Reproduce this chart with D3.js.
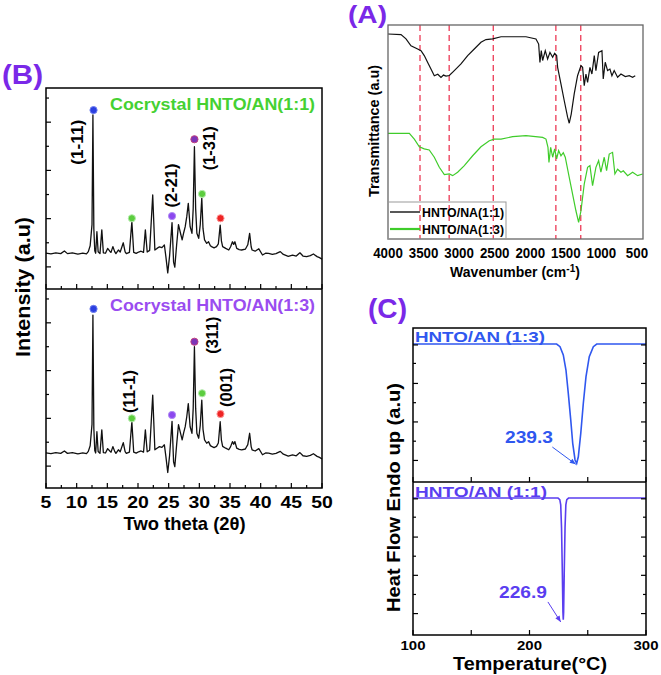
<!DOCTYPE html>
<html><head><meta charset="utf-8">
<script src="https://cdn.jsdelivr.net/npm/d3@7"></script>
<style>
body{margin:0;background:#fff}
text{font-family:"Liberation Sans",Arial,sans-serif;font-weight:bold}
</style>
</head><body>
<svg id="c" width="661" height="675"></svg>
<script>
// ---------------- DATA ----------------
// (B) XRD, two theta vs intensity (a.u., 0-100 per sub-plot)
const xrd11 = [[5.0,17.9],[5.8,17.5],[6.6,18.0],[7.4,17.6],[8.0,18.9],[8.5,17.6],[9.3,18.0],[10.2,17.4],[11.0,17.8],[11.6,17.5],[11.9,18.6],[12.2,21.5],[12.5,32],[12.65,86.6],[12.8,30],[12.95,19],[13.1,17.8],[13.3,28.5],[13.5,18.5],[13.8,17.6],[14.1,29.4],[14.35,18],[14.7,17.8],[15.05,20.2],[15.4,18.8],[15.6,18.2],[15.9,21.1],[16.2,18.6],[16.4,17.6],[16.8,19.4],[17.1,18.4],[17.6,23.0],[17.9,18.5],[18.1,17.6],[18.6,18.2],[19.0,33.5],[19.3,18.2],[19.7,17.7],[20.1,18.4],[20.5,18.8],[20.9,18.2],[21.2,29.4],[21.5,18.4],[21.9,19.2],[22.4,46.8],[22.75,19.4],[23.1,20.2],[23.5,21.0],[23.9,20.6],[24.3,21.9],[24.55,16],[24.85,8.0],[25.15,16.5],[25.55,33],[25.8,13.4],[26.0,10.9],[26.3,22],[26.6,32],[26.95,27.5],[27.2,24.4],[27.45,28],[27.7,31.0],[27.95,36],[28.2,42.6],[28.5,31],[28.8,27.7],[29.0,40],[29.2,70.8],[29.4,40],[29.6,27.7],[29.9,25.2],[30.15,32],[30.4,45.3],[30.6,30],[30.85,24.4],[31.2,22.7],[31.5,23.5],[31.8,21.5],[32.0,21.1],[32.4,20.5],[32.8,21.1],[33.1,22.5],[33.4,31.8],[33.6,24],[33.8,21.1],[34.3,20.2],[34.8,19.4],[35.1,21],[35.4,23.5],[35.6,22.2],[35.8,23.5],[36.1,20.2],[36.5,19.6],[36.9,19.4],[37.5,19.8],[37.9,22],[38.2,27.7],[38.45,21],[38.6,19.4],[39.1,18.8],[39.7,20.0],[40.3,16.9],[40.8,17.8],[41.3,17.7],[41.9,17.2],[42.5,17.6],[43.2,18.6],[43.7,17.2],[44.5,16.2],[45.2,16.8],[45.8,16.4],[46.4,18.0],[46.9,16.4],[47.5,16.1],[48.1,16.6],[48.6,17.4],[49.2,16.1],[49.6,15.6],[50.0,14.8]];
const xrd13 = [[5.0,17.6],[5.8,17.3],[6.6,17.8],[7.4,17.4],[8.0,18.6],[8.5,17.4],[9.3,17.8],[10.2,17.2],[11.0,17.6],[11.6,17.3],[11.9,18.4],[12.2,21.2],[12.5,32],[12.65,86.9],[12.8,30],[12.95,18.8],[13.1,17.6],[13.3,28.3],[13.5,18.3],[13.8,17.4],[14.1,29.2],[14.35,17.8],[14.7,17.6],[15.05,19.8],[15.4,18.6],[15.6,18.0],[15.9,20.8],[16.2,18.4],[16.4,17.4],[16.8,19.2],[17.1,18.2],[17.6,22.8],[17.9,18.3],[18.1,17.4],[18.6,18.0],[19.0,33.3],[19.3,18.0],[19.7,17.5],[20.1,18.2],[20.5,18.6],[20.9,18.0],[21.2,29.2],[21.5,18.2],[21.9,19.0],[22.4,46.7],[22.75,19.2],[23.1,20.0],[23.5,20.8],[23.9,20.4],[24.3,21.7],[24.55,15.8],[24.85,7.8],[25.15,16.3],[25.55,33.5],[25.8,13.2],[26.0,10.7],[26.3,21.8],[26.6,31.8],[26.95,27.3],[27.2,24.2],[27.45,27.8],[27.7,30.8],[27.95,35.8],[28.2,42.4],[28.5,30.8],[28.8,27.5],[29.0,40],[29.2,71.0],[29.4,40],[29.6,27.5],[29.9,25.0],[30.15,31.5],[30.4,44.2],[30.6,29.5],[30.85,24.2],[31.2,22.5],[31.5,23.3],[31.8,21.3],[32.0,20.9],[32.4,20.3],[32.8,20.9],[33.1,22.6],[33.4,33.3],[33.6,24],[33.8,20.9],[34.3,20.0],[34.8,19.2],[35.1,20.8],[35.4,23.3],[35.6,22.0],[35.8,23.3],[36.1,20.0],[36.5,19.4],[36.9,19.2],[37.5,19.6],[37.9,21.8],[38.2,27.5],[38.45,20.8],[38.6,19.2],[39.1,18.6],[39.7,19.8],[40.3,16.7],[40.8,17.6],[41.3,17.5],[41.9,17.0],[42.5,17.4],[43.2,18.4],[43.7,17.0],[44.5,16.0],[45.2,16.6],[45.8,16.2],[46.4,17.8],[46.9,16.2],[47.5,15.9],[48.1,16.4],[48.6,17.2],[49.2,15.9],[49.6,15.4],[50.0,14.6]];
const dotTheta = [12.75, 19.0, 25.55, 29.2, 30.45, 33.45];
const dotInt11 = [89.0, 35.2, 36.3, 74.5, 47.3, 35.2];
const dotInt13 = [90.0, 35.0, 36.7, 73.5, 47.6, 37.2];
const xrdTicks = [5,10,15,20,25,30,35,40,45,50];
const xrdTitle11 = "Cocrystal HNTO/AN(1:1)";
const xrdTitle13 = "Cocrystal HNTO/AN(1:3)";
const planeLabels11 = ["(1-11)", "(2-21)", "(1-31)"];
const planeLabels13 = ["(11-1)", "(311)", "(001)"];

// (A) FTIR, wavenumber vs transmittance (a.u.)
const ftir11 = [[4000,95.8],[3817,95.5],[3747,93.5],[3677,90.3],[3583,88.8],[3536,88.0],[3490,85.7],[3442,82.5],[3396,79.4],[3349,76.3],[3300,77.0],[3255,75.5],[3220,76.6],[3185,76.1],[3138,76.4],[3068,78.7],[2974,81.8],[2880,85.7],[2787,88.8],[2693,91.9],[2623,93.2],[2528,93.5],[2411,94.5],[2247,94.5],[2060,94.5],[1920,93.5],[1882,91.1],[1864,82.5],[1845,88],[1826,83.4],[1789,88],[1756,84.1],[1723,87.2],[1685,84.9],[1657,86.8],[1629,85.7],[1615,80.2],[1568,72.4],[1522,64.6],[1475,56.9],[1452,54.1],[1424,58.4],[1382,67.8],[1335,76.3],[1287,81],[1264,80.2],[1241,71.6],[1217,77.1],[1194,73.2],[1161,80.2],[1133,77.1],[1100,85.7],[1077,78.7],[1039,87.2],[992,88],[974,74.8],[946,82.6],[913,78.7],[880,79.4],[852,76.3],[820,78.7],[772,75.6],[725,77.1],[664,75.9],[608,76.3],[561,75.6],[524,76.3]];
const ftir13 = [[4000,49.4],[3700,49.4],[3630,46.7],[3560,43.1],[3490,42.1],[3420,41.6],[3349,38.2],[3279,33.5],[3208,30.1],[3138,30.4],[3091,29.6],[3021,31.2],[2927,34.3],[2810,38.9],[2693,43.1],[2576,45.9],[2506,46.7],[2411,46.7],[2247,47.8],[2060,48.3],[1826,47.5],[1779,46.7],[1751,42.8],[1737,35.8],[1713,42.8],[1685,38.2],[1657,42.1],[1629,37.4],[1601,41.3],[1568,38.9],[1536,40.3],[1508,38.2],[1452,28.8],[1405,21.0],[1358,13.2],[1320,7.8],[1287,13.2],[1241,25.7],[1194,33.5],[1161,34.3],[1124,24.9],[1077,33.5],[1039,36.6],[1007,31.2],[960,38.2],[927,31.9],[890,39.7],[843,40.5],[810,30.4],[772,32.6],[725,31.2],[692,31.9],[631,29.6],[561,31.2],[491,29.6],[420,30.4]];
const ftirMarks = [3550, 3140, 2520, 1640, 1290];
const ftirTicks = [4000,3500,3000,2500,2000,1500,1000,500];
const ftirLegend = ["HNTO/NA(1:1)", "HNTO/NA(1:3)"];

// (C) DSC, temperature vs heat flow (a.u.)
const dsc13 = [[100,89.6],[223.3,89.6],[226.2,87.9],[229.0,82.5],[231.3,72.7],[233.3,57.6],[235.4,40.3],[237.1,25.1],[239.1,14.3],[240.5,12.1],[241.9,16.4],[244,31.6],[246.2,51.1],[248.5,68.4],[251.3,81.4],[254.8,87.9],[257.7,89.6],[300,89.6]];
const dsc11 = [[100,89.5],[224.5,89.5],[226.0,88.5],[226.8,85],[227.5,70],[228.2,40],[228.7,15],[229.0,10],[229.3,15],[229.8,40],[230.5,70],[231.2,85],[232,88.5],[233.5,89.5],[300,89.5]];
const dscPeaks = ["239.3", "226.9"];
const dscNames = ["HNTO/AN (1:3)", "HNTO/AN (1:1)"];
const dscTicks = [100,200,300];

// ---------------- DRAW ----------------
const svg = d3.select('#c');
const PURPLE = '#7a28e8';

function label(g, str, x, y, o) {
  o = o || {};
  const t = g.append('text')
    .attr('transform', `translate(${x},${y}) rotate(${o.rot||0})`)
    .attr('text-anchor', o.anchor || 'start')
    .attr('font-size', o.size || 14)
    .attr('fill', o.color || '#000')
    .text(str);
  if (o.len) t.attr('textLength', o.len).attr('lengthAdjust', 'spacingAndGlyphs');
  return t;
}
function ticks(g, pts, len, width) {
  g.selectAll(null).data(pts).join('line')
    .attr('x1', d => d[0]).attr('y1', d => d[1])
    .attr('x2', d => d[0] + d[2] * len).attr('y2', d => d[1] + d[3] * len)
    .attr('stroke', '#000').attr('stroke-width', width || 1.2);
}

// ===== Panel B =====
const gB = svg.append('g');
const xB = d3.scaleLinear([5, 50], [46, 322]);
const yB1 = d3.scaleLinear([0, 100], [289, 88]);
const yB2 = d3.scaleLinear([0, 100], [488, 289]);
const lineB1 = d3.line().x(d => xB(d[0])).y(d => yB1(d[1]));
const lineB2 = d3.line().x(d => xB(d[0])).y(d => yB2(d[1]));

gB.append('path').attr('d', lineB1(xrd11)).attr('fill', 'none').attr('stroke', '#111').attr('stroke-width', 1.3).attr('stroke-linejoin','round');
gB.append('path').attr('d', lineB2(xrd13)).attr('fill', 'none').attr('stroke', '#111').attr('stroke-width', 1.3).attr('stroke-linejoin','round');

const dotColors = ['#2b3fe0', '#5ccd3f', '#8c48ee', '#7c35b8', '#5ccd3f', '#ee2424'];
const dotStroke = ['#6f7ff0', '#b6ecae', '#b08cf5', '#c04080', '#b6ecae', '#ff9a9a'];
[[dotInt11, yB1], [dotInt13, yB2]].forEach(([ints, ys]) => {
  gB.selectAll(null).data(dotTheta.map((t, i) => [t, ints[i], i])).join('circle')
    .attr('cx', d => xB(d[0])).attr('cy', d => ys(d[1])).attr('r', 3.6)
    .attr('fill', d => dotColors[d[2]]).attr('stroke', d => dotStroke[d[2]]).attr('stroke-width', 1);
});

// frame
gB.append('rect').attr('x', 46).attr('y', 88).attr('width', 276).attr('height', 400)
  .attr('fill', 'none').attr('stroke', '#000').attr('stroke-width', 1.5);
gB.append('line').attr('x1', 46).attr('x2', 322).attr('y1', yB1(0)).attr('y2', yB1(0)).attr('stroke', '#000').attr('stroke-width', 1.5);

// x ticks (inward, at both sub-plot bottoms)
const xMaj = d3.range(5, 50.01, 5), xMin = d3.range(7.5, 50, 5);
[yB1(0), yB2(0)].forEach(yy => {
  ticks(gB, xMaj.map(v => [xB(v), yy, 0, -1]), 5);
  ticks(gB, xMin.map(v => [xB(v), yy, 0, -1]), 3);
});
// y ticks (inward, left)
const yMaj = [11, 35, 59, 83], yMin = [23, 47, 71, 95];
[yB1, yB2].forEach(ys => {
  ticks(gB, yMaj.map(v => [46, ys(v), 1, 0]), 5);
  ticks(gB, yMin.map(v => [46, ys(v), 1, 0]), 3);
});

// x tick labels
gB.append('g').selectAll(null).data(xrdTicks).join('text')
  .attr('x', d => xB(d)).attr('y', 508).attr('text-anchor', 'middle')
  .attr('font-size', 16).text(d => d)
  .attr('textLength', d => String(d).length * 10.8).attr('lengthAdjust', 'spacingAndGlyphs');

label(gB, 'Two theta (2θ)', xB(27.6), 530, {anchor: 'middle', size: 18.5, len: 122});
label(gB, 'Intensity (a.u)', 30, 287, {anchor: 'middle', size: 20, rot: -90, len: 140});
label(gB, '(B)', 2, 84, {size: 28, color: PURPLE, len: 41});
label(gB, xrdTitle11, 110, 110, {size: 16.5, color: '#45d132', len: 205});
label(gB, xrdTitle13, 110, 311, {size: 16.5, color: '#9a4cf0', len: 205});

// plane labels (rotated)
const pl11Pos = [[10.1, 73], [25.3, 51.5], [31.5, 70]];
const pl13Pos = [[18.5, 48.5], [32.1, 76.8], [34.3, 50.5]];
pl11Pos.forEach((p, i) => label(gB, planeLabels11[i], xB(p[0]) + 6, yB1(p[1]), {anchor: 'middle', size: 16.5, rot: -90, len: i === 1 || i === 2 ? 44 : 45}));
pl13Pos.forEach((p, i) => label(gB, planeLabels13[i], xB(p[0]) + 6, yB2(p[1]), {anchor: 'middle', size: 16.5, rot: -90, len: [43, 37, 39][i]}));

// ===== Panel A =====
const gA = svg.append('g');
const xA = d3.scaleLinear([4000, 415], [388, 643]);
const yA = d3.scaleLinear([0, 100], [239, 25]);
const lineA = d3.line().x(d => xA(d[0])).y(d => yA(d[1]));

gA.selectAll(null).data(ftirMarks).join('line')
  .attr('x1', d => xA(d)).attr('x2', d => xA(d)).attr('y1', 25).attr('y2', 239)
  .attr('stroke', '#ec3a55').attr('stroke-width', 1.3).attr('stroke-dasharray', '6,4');
gA.append('path').attr('d', lineA(ftir11)).attr('fill', 'none').attr('stroke', '#111').attr('stroke-width', 1.2);
gA.append('path').attr('d', lineA(ftir13)).attr('fill', 'none').attr('stroke', '#3fcc2a').attr('stroke-width', 1.2);
gA.append('rect').attr('x', 388).attr('y', 25).attr('width', 255).attr('height', 214)
  .attr('fill', 'none').attr('stroke', '#666').attr('stroke-width', 1.3);

gA.append('g').selectAll(null).data(ftirTicks).join('text')
  .attr('x', d => xA(d)).attr('y', 258).attr('text-anchor', 'middle')
  .attr('font-size', 14).text(d => d)
  .attr('textLength', d => String(d).length * 7.4).attr('lengthAdjust', 'spacingAndGlyphs');

const wn = gA.append('text').attr('x', 515).attr('y', 277).attr('text-anchor', 'middle').attr('font-size', 14);
wn.append('tspan').text('Wavenumber (cm');
wn.append('tspan').attr('font-size', 10).attr('dy', -5).text('-1');
wn.append('tspan').attr('dy', 5).text(')');

label(gA, 'Transmittance (a.u)', 378.5, 131, {anchor: 'middle', size: 14, rot: -90, len: 132});
label(gA, '(A)', 348, 23, {size: 24, color: PURPLE, len: 39});

// legend
gA.append('rect').attr('x', 388).attr('y', 202).attr('width', 118).attr('height', 37)
  .attr('fill', 'none').attr('stroke', '#999').attr('stroke-width', 1);
const legColors = ['#111', '#3fcc2a'];
ftirLegend.forEach((s, i) => {
  const yy = 212 + i * 17;
  gA.append('line').attr('x1', 390).attr('x2', 420).attr('y1', yy).attr('y2', yy)
    .attr('stroke', legColors[i]).attr('stroke-width', i ? 2.2 : 1.4);
  label(gA, s, 422, yy + 4.5, {size: 13, len: 82});
});

// ===== Panel C =====
const gC = svg.append('g');
const xC = d3.scaleLinear([100, 300], [413, 646]);
const yC1 = d3.scaleLinear([0, 100], [482, 328]);
const yC2 = d3.scaleLinear([0, 100], [635, 482]);
const BLUE1 = '#2f57ef', BLUE2 = '#5a3ef0';

gC.append('path').attr('d', d3.line().x(d => xC(d[0])).y(d => yC1(d[1]))(dsc13))
  .attr('fill', 'none').attr('stroke', BLUE1).attr('stroke-width', 1.6);
gC.append('path').attr('d', d3.line().x(d => xC(d[0])).y(d => yC2(d[1]))(dsc11))
  .attr('fill', 'none').attr('stroke', BLUE2).attr('stroke-width', 1.6);

gC.append('rect').attr('x', 413).attr('y', 328).attr('width', 233).attr('height', 307)
  .attr('fill', 'none').attr('stroke', '#000').attr('stroke-width', 1.5);
gC.append('line').attr('x1', 413).attr('x2', 646).attr('y1', yC1(0)).attr('y2', yC1(0)).attr('stroke', '#000').attr('stroke-width', 1.5);

const cxMaj = [100, 200, 300], cxMin = [150, 250];
[yC1(0), yC2(0)].forEach(yy => {
  ticks(gC, cxMaj.map(v => [xC(v), yy, 0, -1]), 5);
  ticks(gC, cxMin.map(v => [xC(v), yy, 0, -1]), 5);
});
const cyMaj = [14, 39, 64, 89], cyMin = [26.5, 51.5, 77];
[yC1, yC2].forEach(ys => {
  ticks(gC, cyMaj.map(v => [413, ys(v), 1, 0]), 5);
  ticks(gC, cyMin.map(v => [413, ys(v), 1, 0]), 3);
  ticks(gC, cyMaj.map(v => [646, ys(v), -1, 0]), 5);
  ticks(gC, cyMin.map(v => [646, ys(v), -1, 0]), 3);
});

gC.append('g').selectAll(null).data(dscTicks).join('text')
  .attr('x', d => xC(d)).attr('y', 650).attr('text-anchor', 'middle')
  .attr('font-size', 13.5).text(d => d)
  .attr('textLength', 25).attr('lengthAdjust', 'spacingAndGlyphs');

label(gC, 'Temperature(°C)', 530, 670, {anchor: 'middle', size: 18.5, len: 154});
label(gC, 'Heat Flow Endo up (a.u)', 400, 497.5, {anchor: 'middle', size: 19, rot: -90, len: 229});
label(gC, '(C)', 368, 318, {size: 28, color: PURPLE, len: 39});

label(gC, dscNames[0], 415, 342, {size: 15.5, color: BLUE1, len: 130});
label(gC, dscNames[1], 415, 497, {size: 15.5, color: BLUE2, len: 132});
label(gC, dscPeaks[0], 505, 443, {size: 16, color: BLUE1, len: 48});
label(gC, dscPeaks[1], 499, 598, {size: 16, color: BLUE2, len: 48});

// arrows
function arrow(g, x1, y1, x2, y2, color) {
  g.append('line').attr('x1', x1).attr('y1', y1).attr('x2', x2).attr('y2', y2)
    .attr('stroke', color).attr('stroke-width', 1);
  const a = Math.atan2(y2 - y1, x2 - x1), L = 6, W = 2.5;
  const p = [[x2, y2],
    [x2 - L * Math.cos(a) + W * Math.sin(a), y2 - L * Math.sin(a) - W * Math.cos(a)],
    [x2 - L * Math.cos(a) - W * Math.sin(a), y2 - L * Math.sin(a) + W * Math.cos(a)]];
  g.append('polygon').attr('points', p.map(q => q.join(',')).join(' ')).attr('fill', color);
}
arrow(gC, xC(219.6), yC1(22.7), xC(239.7), yC1(11.5), BLUE1);
arrow(gC, xC(215.8), yC2(21.6), xC(226.8), yC2(8.5), BLUE2);
</script>
</body></html>
